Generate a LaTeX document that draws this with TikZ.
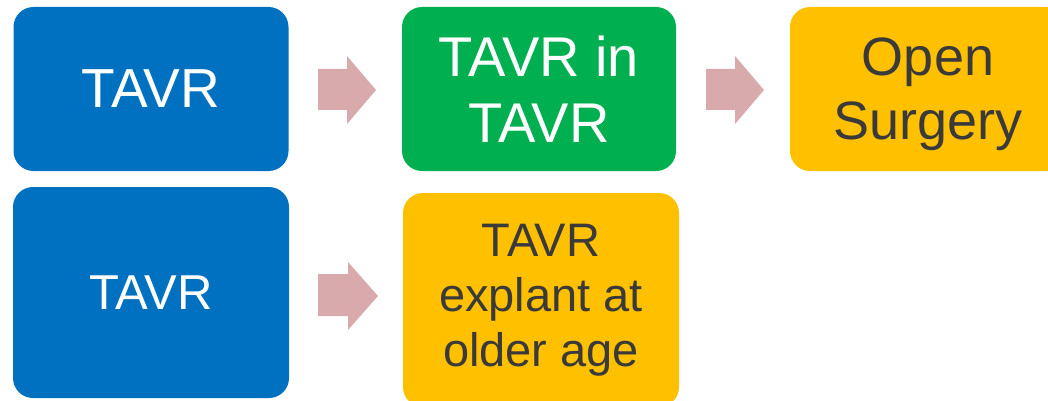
\documentclass[tikz,border=0pt]{standalone}
\usepackage{fontspec}
\setmainfont{Liberation Sans}
\definecolor{cblue}{HTML}{0070C0}
\definecolor{cgreen}{HTML}{00B050}
\definecolor{cyellow}{HTML}{FFC000}
\definecolor{carrow}{HTML}{D8AAAB}
\definecolor{cdark}{HTML}{3A3A3A}
\begin{document}
\begin{tikzpicture}[x=1pt,y=-1pt,
  boxstyle/.style={rectangle,rounded corners=20pt,inner sep=0pt,align=center},
  bluebox/.style={boxstyle,fill=cblue,text=white},
  greenbox/.style={boxstyle,fill=cgreen,text=white},
  yellowbox/.style={boxstyle,fill=cyellow,text=cdark},
  blockarrow/.style={fill=carrow}]
\useasboundingbox (0,0) rectangle (1048,401);
\clip (0,0) rectangle (1048,401);
\node[bluebox,minimum width=275pt,minimum height=164pt,font=\fontsize{55}{66}\selectfont] (b1) at (151,89) {TAVR};
\node[greenbox,minimum width=274pt,minimum height=164pt,font=\fontsize{56}{66}\selectfont] (b2) at (539,89) {TAVR in\\TAVR};
\node[yellowbox,minimum width=276pt,minimum height=164pt,font=\fontsize{54}{64}\selectfont,text depth=0pt] (b3) at (928,89) {Open\\Surgery};
\node[bluebox,minimum width=276pt,minimum height=211pt,font=\fontsize{49}{59}\selectfont] (b4) at (151,292.5) {TAVR};
\node[yellowbox,minimum width=276pt,minimum height=214pt,font=\fontsize{47}{55}\selectfont] (b5) at (541,300) {TAVR\\explant at\\older age};
\fill[blockarrow] (318,69) -- (347,69) -- (347,56) -- (376,90) -- (347,124) -- (347,110) -- (318,110) -- cycle;
\fill[blockarrow] (706,69) -- (735,69) -- (735,56) -- (764,90) -- (735,124) -- (735,110) -- (706,110) -- cycle;
\fill[blockarrow] (318,274) -- (348,274) -- (348,262) -- (378,296) -- (348,330) -- (348,316) -- (318,316) -- cycle;
\end{tikzpicture}
\end{document}
